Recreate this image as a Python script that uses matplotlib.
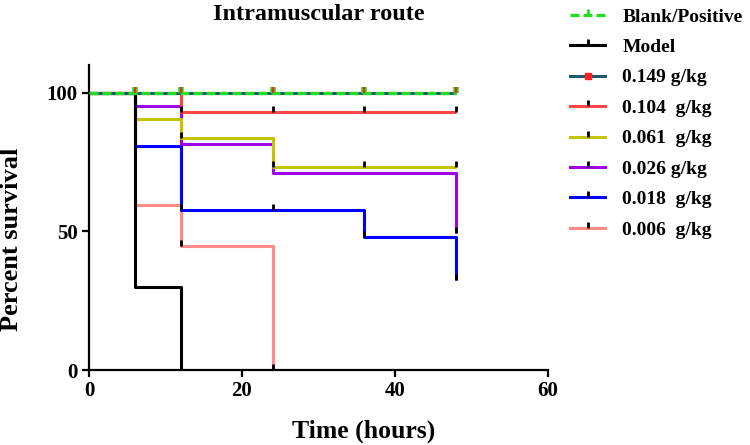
import matplotlib.pyplot as plt
from matplotlib.lines import Line2D

plt.rcParams['font.family'] = ['Liberation Serif', 'DejaVu Serif']
plt.rcParams['font.weight'] = 'bold'

# survival curves: (times, percent survival) drawn as post-steps, plus censor marks
t_model = [0, 6, 12]
s_model = [100, 30, 0]

t_blank = [0, 48]
s_blank = [100, 100]
c_blank = [6, 12, 24, 36, 48]
cs_blank = [100, 100, 100, 100, 100]

t_149 = [0, 48]
s_149 = [100, 100]
c_149 = [6, 12, 24, 36, 48]
cs_149 = [100, 100, 100, 100, 100]

t_104 = [0, 12, 48]
s_104 = [100, 93, 93]
c_104 = [12, 24, 36, 48]
cs_104 = [93, 93, 93, 93]

t_061 = [0, 6, 12, 24, 48]
s_061 = [100, 90.4, 83.7, 73.3, 73.3]
c_061 = [12, 24, 36, 48]
cs_061 = [83.7, 73.3, 73.3, 73.3]

t_026 = [0, 6, 12, 24, 48]
s_026 = [100, 95.2, 81.6, 71.1, 49.5]
c_026 = [48]
cs_026 = [49.5]

t_018 = [0, 6, 12, 36, 48]
s_018 = [100, 80.7, 57.6, 47.8, 32.5]
c_018 = [12, 24, 36, 48]
cs_018 = [57.6, 57.6, 47.8, 32.5]

t_006 = [0, 6, 12, 24]
s_006 = [100, 59.6, 44.8, 0]
c_006 = [12, 24]
cs_006 = [44.8, 0]

labels = ['Blank/Positive', 'Model', '0.149 g/kg', '0.104  g/kg', '0.061  g/kg',
          '0.026 g/kg', '0.018  g/kg', '0.006  g/kg']

tick = [(0, 0), (0, 1)]
GREEN = '#22dd22'
TEAL = '#1e5a6e'

fig = plt.figure(figsize=(7.5, 4.45), dpi=100)
ax = fig.add_axes([89/750, 1 - 370/445, 459/750, 305/445])

series = [
    (t_006, s_006, c_006, cs_006, '#ff8a8a'),
    (t_018, s_018, c_018, cs_018, '#0000ff'),
    (t_026, s_026, c_026, cs_026, '#a000e8'),
    (t_061, s_061, c_061, cs_061, '#c4c400'),
    (t_104, s_104, c_104, cs_104, '#ff4545'),
    (t_model, s_model, [], [], 'black'),
    (t_149, s_149, [], [], TEAL),
]
for t, s, ct, cs, col in series:
    ax.step(t, s, where='post', color=col, lw=2.2, solid_capstyle='butt')
    if ct:
        ax.plot(ct, cs, ls='none', marker=tick, ms=9, mew=2, mec='black', zorder=4)

ax.step(t_blank, s_blank, where='post', color=GREEN, lw=2.4, ls=(0, (2.7, 1.2)), zorder=3)
ax.plot(c_blank, cs_blank, ls='none', marker=tick, ms=9, mew=4, mec=GREEN, zorder=4)
ax.plot(c_149, cs_149, ls='none', marker=tick, ms=9, mew=1.6, mec='#ff2020', zorder=5)

ax.set_xlim(0, 60)
ax.set_ylim(0, 110)
ax.set_xticks([0, 20, 40, 60])
ax.set_yticks([0, 50, 100])
ax.spines['top'].set_visible(False)
ax.spines['right'].set_visible(False)
for sp in ['left', 'bottom']:
    ax.spines[sp].set_linewidth(1.6)
ax.tick_params(width=1.6, length=5, labelsize=15, pad=3)
for lab in ax.get_xticklabels() + ax.get_yticklabels():
    lab.set_fontweight('bold')

ax.set_xlabel('Time (hours)', fontsize=18.5, fontweight='bold')
ax.xaxis.set_label_coords(0.599, -0.164)
ax.set_ylabel('Percent survival', fontsize=19, fontweight='bold')
ax.yaxis.set_label_coords(-0.144, 0.43)
fig.text(318.5/750, 1 - 15/445, 'Intramuscular route', fontsize=17.5, fontweight='bold',
         ha='center', va='center')

handles = [
    Line2D([0], [0], color=GREEN, lw=2.4, ls=(0, (2.7, 1.2)), marker=tick, ms=8, mew=2, mec=GREEN),
    Line2D([0], [0], color='black', lw=2.2, marker=tick, ms=8, mew=2, mec='black'),
    Line2D([0], [0], color=TEAL, lw=2.2, marker='s', ms=5, mec='#ff2020', mfc='#ff2020'),
    Line2D([0], [0], color='#ff4545', lw=2.2, marker=tick, ms=8, mew=2, mec='black'),
    Line2D([0], [0], color='#c4c400', lw=2.2, marker=tick, ms=8, mew=2, mec='black'),
    Line2D([0], [0], color='#a000e8', lw=2.2, marker=tick, ms=8, mew=2, mec='black'),
    Line2D([0], [0], color='#0000ff', lw=2.2, marker=tick, ms=8, mew=2, mec='black'),
    Line2D([0], [0], color='#ff8a8a', lw=2.2, marker=tick, ms=8, mew=2, mec='black'),
]
fig.legend(handles, labels, loc='upper left', bbox_to_anchor=(570/750, 1 - 8/445), frameon=False,
           prop={'family': 'Liberation Serif', 'weight': 'bold', 'size': 14},
           handlelength=1.8, labelspacing=0.66, handletextpad=0.9,
           borderaxespad=0, borderpad=0)

fig.savefig('out.png', dpi=100)
